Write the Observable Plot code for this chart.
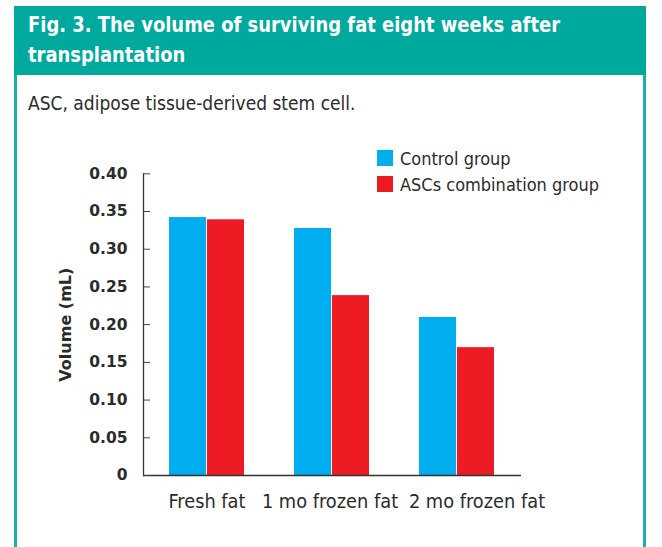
<!DOCTYPE html>
<html>
<head>
<meta charset="utf-8">
<script src="https://cdn.jsdelivr.net/npm/d3@7"></script>
<script src="https://cdn.jsdelivr.net/npm/@observablehq/plot@0.6"></script>
<style>
  body { margin: 0; background: #fff; }
  #wrap { position: relative; width: 662px; height: 547px; overflow: hidden;
          font-family: "DejaVu Sans Condensed", "DejaVu Sans", sans-serif; color: #2b2b2b; }
  #head { position: absolute; left: 14px; top: 6px; width: 632px; height: 69px; box-sizing: border-box;
          background: #00a99d; color: #fff; font-weight: bold; font-size: 21.5px; line-height: 30px;
          font-family: "DejaVu Sans Condensed", "DejaVu Sans", sans-serif; font-stretch: condensed;
          padding: 3.5px 0 0 14px; white-space: nowrap; }
  #head span { display: inline-block; transform: scaleX(0.927); transform-origin: 0 50%; }
  .side { position: absolute; top: 75px; width: 3px; height: 472px; background: #1bb2a5; }
  #sub { position: absolute; left: 28px; top: 94px; font-size: 19px; line-height: 19px; white-space: nowrap; }
  #chart { position: absolute; left: 0; top: 130px; }
  .sw { position: absolute; width: 16px; height: 16px; }
  .lt { position: absolute; font-size: 18px; line-height: 18px; white-space: nowrap; }
</style>
</head>
<body>
<div id="wrap">
  <div id="head"><span>Fig. 3. The volume of surviving fat eight weeks after<br>transplantation</span></div>
  <div class="side" style="left:14px"></div>
  <div class="side" style="left:643px"></div>
  <div id="sub">ASC, adipose tissue-derived stem cell.</div>
  <div id="chart"></div>
  <div id="legend"></div>
</div>
<script>
const categories = ["Fresh fat", "1 mo frozen fat", "2 mo frozen fat"];
const seriesNames = ["Control group", "ASCs combination group"];
const controlValues = [0.342, 0.3275, 0.2095];
const ascValues = [0.339, 0.2385, 0.1695];
const yTicks = [0, 0.05, 0.10, 0.15, 0.20, 0.25, 0.30, 0.35, 0.40];
const seriesColors = ["#00adee", "#ed1c24"];
// horizontal nudges of the category labels as typeset in the original
const labelShift = [0, -2, 20];

const controlData = categories.map((c, i) => ({category: c, value: controlValues[i]}));
const ascData = categories.map((c, i) => ({category: c, value: ascValues[i]}));

const textColor = "#2b2b2b";
const half = 37.95;

const xLabelAxes = categories.map((c, i) => Plot.axisX({
  ticks: [c], tickSize: 0, tickPadding: 18, label: null, dx: labelShift[i],
  fontSize: 19.8, fontFamily: "DejaVu Sans Condensed", fill: textColor
}));

const chart = Plot.plot({
  width: 662,
  height: 385,
  marginLeft: 143,
  marginRight: 141,
  marginTop: 43.3,
  marginBottom: 40,
  style: {background: "transparent", color: textColor, overflow: "visible"},
  x: {domain: categories, paddingInner: 0.397, paddingOuter: 0.2},
  y: {domain: [0, 0.4]},
  marks: [
    Plot.barY(controlData, {x: "category", y: "value", fill: seriesColors[0], insetRight: half}),
    Plot.barY(ascData, {x: "category", y: "value", fill: seriesColors[1], insetLeft: half}),
    Plot.frame({anchor: "left", stroke: "#333", strokeWidth: 1.3}),
    Plot.ruleY([0], {stroke: "#333", strokeWidth: 1.3}),
    Plot.axisY({ticks: yTicks, tickSize: 7, dx: 7, fill: "none", label: null, stroke: "#444"}),
    Plot.axisY({ticks: yTicks, tickSize: 0, tickPadding: 16,
      tickFormat: d => d === 0 ? "0" : d.toFixed(2),
      fontSize: 15.5, fontWeight: "bold", fontFamily: "DejaVu Sans", fill: textColor,
      label: "Volume (mL)", labelAnchor: "center", labelOffset: 84, labelArrow: "none"}),
    ...xLabelAxes
  ]
});
chart.querySelectorAll("g[aria-label='y-axis label']").forEach(el => {
  el.setAttribute("font-size", "16");
  el.setAttribute("font-weight", "bold");
  el.setAttribute("font-family", "DejaVu Sans");
});
document.getElementById("chart").appendChild(chart);

const legend = document.getElementById("legend");
seriesNames.forEach((name, i) => {
  const top = 150 + i * 26;
  const sw = document.createElement("div");
  sw.className = "sw";
  sw.style.left = "377px"; sw.style.top = top + "px"; sw.style.background = seriesColors[i];
  const t = document.createElement("div");
  t.className = "lt";
  t.style.left = "400px"; t.style.top = top + "px";
  t.textContent = name;
  legend.appendChild(sw); legend.appendChild(t);
});
</script>
</body>
</html>
